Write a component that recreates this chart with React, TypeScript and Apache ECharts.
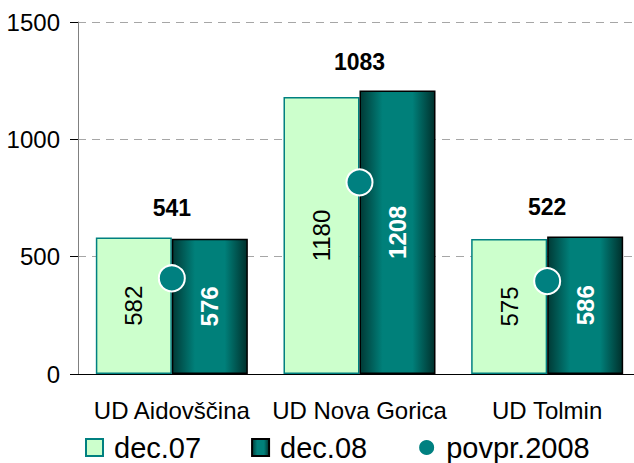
import React, { useEffect, useRef } from "react";
import * as echarts from "echarts";

const categories = ["UD Aidovščina", "UD Nova Gorica", "UD Tolmin"];
const dec07 = [582, 1180, 575];
const dec08 = [576, 1208, 586];
const povpr2008 = [408, 817, 396];
const topLabels = [541, 1083, 522];
const yTicks = [0, 500, 1000, 1500];

const FONT = "'Liberation Sans', Arial, sans-serif";

export default function App() {
  const ref = useRef<HTMLDivElement>(null);
  useEffect(() => {
    if (!ref.current) return;
    const chart = echarts.init(ref.current, undefined, { renderer: "svg" });
    const darkGrad = new echarts.graphic.LinearGradient(0, 0, 1, 0, [
      { offset: 0, color: "#003a36" },
      { offset: 0.3, color: "#00807a" },
      { offset: 0.7, color: "#00807a" },
      { offset: 1, color: "#00302c" },
    ]);
    const labelAnchor = dec07.map((v, i) => Math.max(v, dec08[i]));
    chart.setOption({
      animation: false,
      textStyle: { fontFamily: FONT },
      grid: { left: 78, top: 22, width: 563, height: 352, containLabel: false },
      legend: {
        data: [
          { name: "dec.07", icon: "rect" },
          { name: "dec.08", icon: "rect" },
          { name: "povpr.2008", icon: "circle" },
        ],
        left: 80,
        top: 428,
        itemWidth: 17,
        itemHeight: 17,
        itemGap: 50,
        textStyle: { fontSize: 29, color: "#000", fontFamily: FONT, padding: [0, 0, 0, 6] },
      },
      xAxis: {
        type: "category",
        data: categories,
        axisLine: { lineStyle: { color: "#000", width: 1 } },
        axisTick: { show: false },
        axisLabel: { fontSize: 24, color: "#000", margin: 24, fontFamily: FONT, interval: 0 },
      },
      yAxis: {
        type: "value",
        min: 0,
        max: 1500,
        interval: 500,
        axisLine: { show: true, lineStyle: { color: "#808080" } },
        axisTick: { show: true, length: 8, lineStyle: { color: "#000" } },
        axisLabel: {
          fontSize: 24,
          color: "#000",
          margin: 18,
          fontFamily: FONT,
          formatter: (v: number) => (yTicks.includes(v) ? String(v) : ""),
        },
        splitLine: { lineStyle: { color: "#a6a6a6", type: [8, 6] } },
      },
      series: [
        {
          name: "dec.07",
          type: "bar",
          data: dec07,
          barGap: "0%",
          barCategoryGap: "19%",
          itemStyle: { color: "#ccffcc", borderColor: "#008080", borderWidth: 1.5 },
          label: {
            show: true,
            position: "inside",
            rotate: 90,
            fontSize: 24,
            color: "#000",
            fontFamily: FONT,
          },
          z: 2,
        },
        {
          name: "dec.08",
          type: "bar",
          data: dec08,
          barGap: "0%",
          barCategoryGap: "19%",
          itemStyle: { color: darkGrad, borderColor: "#000", borderWidth: 1.5 },
          label: {
            show: true,
            position: "inside",
            rotate: 90,
            fontSize: 24,
            fontWeight: "bold",
            color: "#fff",
            fontFamily: FONT,
          },
          z: 2,
        },
        {
          name: "labels",
          type: "line",
          data: labelAnchor,
          symbol: "circle",
          symbolSize: 1,
          showSymbol: true,
          itemStyle: { color: "rgba(0,0,0,0)" },
          lineStyle: { color: "rgba(0,0,0,0)" },
          label: {
            show: true,
            position: "top",
            distance: 17,
            fontSize: 23,
            fontWeight: "bold",
            color: "#000",
            fontFamily: FONT,
            formatter: (p: any) => String(topLabels[p.dataIndex]),
          },
          z: 3,
        },
        {
          name: "povpr.2008",
          type: "scatter",
          data: povpr2008,
          symbol: "circle",
          symbolSize: 26,
          itemStyle: { color: "#008080", borderColor: "#fff", borderWidth: 2, opacity: 1 },
          z: 5,
        },
      ],
    });
    return () => chart.dispose();
  }, []);
  return (
    <div style={{ position: "fixed", left: 0, top: 0, width: 634, height: 463, overflow: "hidden", background: "#fff" }}>
      <div ref={ref} style={{ width: 642, height: 463 }} />
    </div>
  );
}
